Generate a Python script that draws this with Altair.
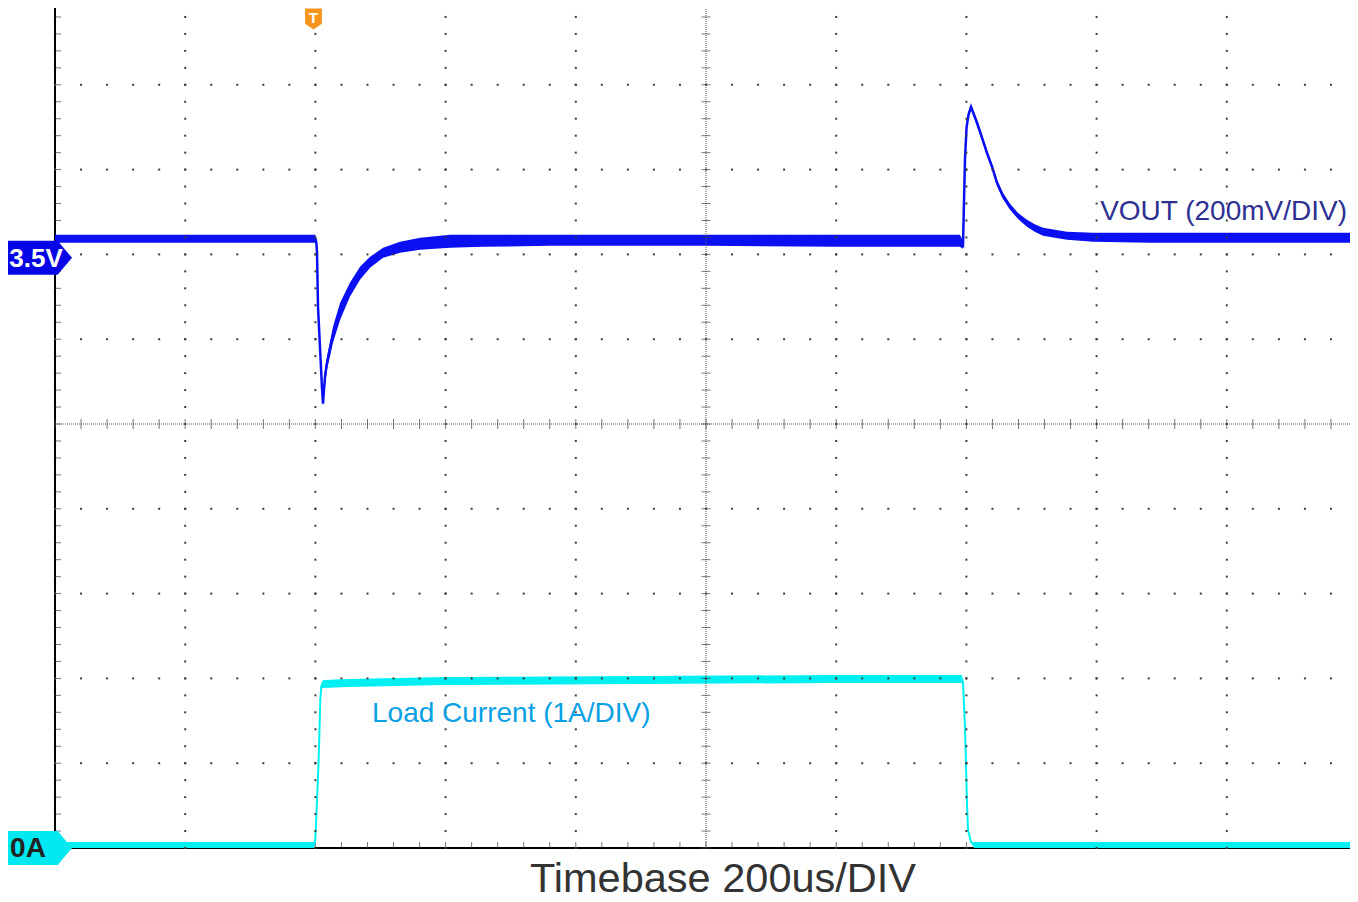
import altair as alt
import pandas as pd

# ---------------- scope settings ----------------
US_PER_DIV = 200          # timebase 200 us/div
T_START, T_END = -400, 1600   # us, trigger at t = 0
N_XDIV, N_YDIV = 10, 10
MINOR = 5                 # minor ticks per division

VOUT_LEVEL = 3.5          # channel marker "3.5V"
VOUT_PER_DIV = 0.2        # 200 mV/div
VOUT_LEVEL_DIV = 6.96     # marker level, divisions above the bottom
IOUT_LEVEL = 0.0          # channel marker "0A"
IOUT_PER_DIV = 1.0        # 1 A/div
TRIGGER_T = -3

# ---------------- VOUT trace (V) ----------------
vout_t = [-400, -200, 0, 1.5, 2.5, 4, 7, 10, 11.7, 13, 14.7, 17.8, 27, 38, 53, 68.5, 84,
          104, 130, 161, 207, 257, 360, 600, 800, 990, 994.8, 997.8, 1000.2, 1003.2,
          1007.1, 1016.3, 1021, 1031.6, 1040, 1047, 1056, 1067, 1079, 1093, 1105, 1117.7,
          1136, 1154.5, 1194.5, 1282, 1400, 1600]
vout_mid = [3.5448, 3.5448, 3.5448, 3.5354, 3.5118, 3.3844, 3.2901, 3.1958, 3.1557, 3.1840,
            3.2193, 3.2524, 3.3184, 3.3750, 3.4245, 3.4646, 3.4906, 3.5118, 3.5248, 3.5330,
            3.5389, 3.5401, 3.5413, 3.5413, 3.5401, 3.5401, 3.5307, 3.7311, 3.8066, 3.8373,
            3.8561, 3.8184, 3.7972, 3.7476, 3.7123, 3.6769, 3.6462, 3.6203, 3.5991, 3.5825,
            3.5708, 3.5613, 3.5566, 3.5519, 3.5483, 3.5472, 3.5472, 3.5472]
vout_hi = [3.5542, 3.5542, 3.5542, 3.5401, 3.5165, 3.3892, 3.2948, 3.2005, 3.1604, 3.1934,
           3.2358, 3.2665, 3.3373, 3.3939, 3.4410, 3.4788, 3.5024, 3.5236, 3.5377, 3.5472,
           3.5542, 3.5542, 3.5542, 3.5542, 3.5542, 3.5542, 3.5401, 3.7359, 3.8113, 3.8443,
           3.8609, 3.8255, 3.8043, 3.7547, 3.7194, 3.6840, 3.6533, 3.6274, 3.6062, 3.5896,
           3.5790, 3.5708, 3.5660, 3.5613, 3.5590, 3.5590, 3.5590, 3.5590]
vout_lo = [3.5354, 3.5354, 3.5354, 3.5307, 3.5071, 3.3797, 3.2854, 3.1910, 3.1509, 3.1745,
           3.1958, 3.2358, 3.2995, 3.3538, 3.4080, 3.4481, 3.4764, 3.5000, 3.5118, 3.5189,
           3.5236, 3.5259, 3.5283, 3.5283, 3.5259, 3.5259, 3.5212, 3.7264, 3.8019, 3.8302,
           3.8491, 3.8113, 3.7901, 3.7406, 3.7052, 3.6698, 3.6391, 3.6132, 3.5920, 3.5731,
           3.5613, 3.5519, 3.5472, 3.5425, 3.5377, 3.5354, 3.5354, 3.5354]

# ---------------- Load current trace (A) ----------------
iload_t = [-400, -200, -2, 0, 2.5, 5, 7.5, 9, 12, 50, 200, 500, 800, 993.3, 994.8, 997.8,
           1000.9, 1002.5, 1007.1, 1011.7, 1200, 1600]
iload_mid = [0.0354, 0.0354, 0.0354, 0.1179, 0.5660, 1.0377, 1.7453, 1.9104, 1.9340, 1.9458,
             1.9693, 1.9811, 1.9929, 1.9929, 1.9458, 1.4269, 0.5307, 0.2123, 0.0708, 0.0354,
             0.0354, 0.0354]
iload_hi = [0.0708, 0.0708, 0.0708, 0.1179, 0.5660, 1.0377, 1.7453, 1.9458, 1.9811, 1.9929,
            2.0165, 2.0283, 2.0401, 2.0401, 1.9458, 1.4269, 0.5307, 0.2123, 0.0708, 0.0708,
            0.0708, 0.0708]
iload_lo = [0.0, 0.0, 0.0, 0.1179, 0.5660, 1.0377, 1.7453, 1.8750, 1.8868, 1.8986, 1.9222,
            1.9340, 1.9458, 1.9458, 1.9458, 1.4269, 0.5307, 0.2123, 0.0708, 0.0, 0.0, 0.0]

# ---------------- text ----------------
vout_label = "VOUT (200mV/DIV)"
iload_label = "Load Current (1A/DIV)"
timebase_label = "Timebase 200us/DIV"
vout_marker = "3.5V"
iload_marker = "0A"
trigger_marker = "T"

W, H = 1302, 848
FONT = "Liberation Sans"
VOUT_COLOR = "#0a10f2"
IOUT_COLOR = "#00f0f2"
GRID = "#3c3c3c"

# ---------------- scales ----------------
x_scale = alt.Scale(domain=[T_START, T_END], nice=False, zero=False)
div_scale = alt.Scale(domain=[0, N_YDIV], nice=False, zero=False)
v_bottom = VOUT_LEVEL - VOUT_LEVEL_DIV * VOUT_PER_DIV
vout_scale = alt.Scale(domain=[v_bottom, v_bottom + N_YDIV * VOUT_PER_DIV], nice=False, zero=False)
i_scale = alt.Scale(domain=[IOUT_LEVEL, IOUT_LEVEL + N_YDIV * IOUT_PER_DIV], nice=False, zero=False)


def X(f):
    return alt.X(f, type="quantitative", scale=x_scale, axis=None)


def Y(f, s):
    return alt.Y(f, type="quantitative", scale=s, axis=None)


vout_df = pd.DataFrame({"t": vout_t, "v": vout_mid, "hi": vout_hi, "lo": vout_lo})
iload_df = pd.DataFrame({"t": iload_t, "i": iload_mid, "hi": iload_hi, "lo": iload_lo})

# graticule
minor_t = [T_START + j * US_PER_DIV / MINOR for j in range(N_XDIV * MINOR + 1)]
minor_d = [j / MINOR for j in range(N_YDIV * MINOR + 1)]
dots = []
for k in range(1, N_YDIV):
    if k == N_YDIV // 2:
        continue
    for t in minor_t:
        dots.append({"t": t, "d": k})
for k in range(1, N_XDIV):
    if k == N_XDIV // 2:
        continue
    for d in minor_d:
        dots.append({"t": T_START + k * US_PER_DIV, "d": d})
dots_df = pd.DataFrame(dots)
t_center = T_START + US_PER_DIV * N_XDIV / 2
d_center = N_YDIV / 2

hticks_df = pd.DataFrame({"t": minor_t})          # along horizontal lines
vticks_df = pd.DataFrame({"d": minor_d})          # along vertical lines

frame_v = pd.DataFrame({"t": [T_START, T_END], "d0": [0, 0], "d1": [N_YDIV, N_YDIV]})
frame_h = pd.DataFrame({"d": [0], "t0": [T_START], "t1": [T_END]})
cross_v = pd.DataFrame({"t": [t_center], "d0": [0], "d1": [N_YDIV]})
cross_h = pd.DataFrame({"d": [d_center], "t0": [T_START], "t1": [T_END]})

layers = []

# frame
layers.append(alt.Chart(frame_v.iloc[[0]]).mark_rule(color="black", strokeWidth=2).encode(
    x=X("t"), y=Y("d0", div_scale), y2="d1"))
layers.append(alt.Chart(frame_v.iloc[[1]]).mark_rule(color="#2a2a2a", strokeWidth=1.5).encode(
    x=X("t"), y=Y("d0", div_scale), y2="d1"))
layers.append(alt.Chart(frame_h).mark_rule(color="black", strokeWidth=2).encode(
    y=Y("d", div_scale), x=X("t0"), x2="t1"))
# frame ticks (inward)
layers.append(alt.Chart(vticks_df).mark_tick(orient="horizontal", size=6, thickness=1, color=GRID, xOffset=3).encode(
    x=alt.value(0), y=Y("d", div_scale)))
layers.append(alt.Chart(vticks_df).mark_tick(orient="horizontal", size=6, thickness=1, color=GRID, xOffset=-3).encode(
    x=alt.value(W), y=Y("d", div_scale)))
layers.append(alt.Chart(hticks_df).mark_tick(orient="vertical", size=6, thickness=1, color=GRID, yOffset=-3).encode(
    x=X("t"), y=alt.value(H)))

# traces
layers.append(alt.Chart(iload_df).mark_area(color=IOUT_COLOR, opacity=1).encode(
    x=X("t"), y=Y("hi", i_scale), y2="lo"))
layers.append(alt.Chart(iload_df).mark_line(color=IOUT_COLOR, strokeWidth=2).encode(
    x=X("t"), y=Y("i", i_scale)))
layers.append(alt.Chart(vout_df).mark_area(color=VOUT_COLOR, opacity=1).encode(
    x=X("t"), y=Y("hi", vout_scale), y2="lo"))
layers.append(alt.Chart(vout_df).mark_line(color=VOUT_COLOR, strokeWidth=2.5).encode(
    x=X("t"), y=Y("v", vout_scale)))

# grid dots
layers.append(alt.Chart(dots_df).mark_square(size=4, color=GRID, opacity=1).encode(
    x=X("t"), y=Y("d", div_scale)))
# center crosshair
layers.append(alt.Chart(cross_v).mark_rule(color="#555555", strokeWidth=1, strokeDash=[1, 1]).encode(
    x=X("t"), y=Y("d0", div_scale), y2="d1"))
layers.append(alt.Chart(cross_h).mark_rule(color="#555555", strokeWidth=1, strokeDash=[1, 1]).encode(
    y=Y("d", div_scale), x=X("t0"), x2="t1"))
layers.append(alt.Chart(hticks_df.assign(d=d_center)).mark_tick(orient="vertical", size=10, thickness=1, color=GRID).encode(
    x=X("t"), y=Y("d", div_scale)))
layers.append(alt.Chart(vticks_df.assign(t=t_center)).mark_tick(orient="horizontal", size=9, thickness=1, color=GRID).encode(
    x=X("t"), y=Y("d", div_scale)))

# channel markers
PENT = "M-1,-0.47 L0.6,-0.47 L1,0 L0.6,0.47 L-1,0.47 Z"
vm = pd.DataFrame({"v": [VOUT_LEVEL], "label": [vout_marker]})
im = pd.DataFrame({"i": [IOUT_LEVEL], "label": [iload_marker]})
layers.append(alt.Chart(vm).mark_point(shape=PENT, size=5184, filled=True, opacity=1, color="#0505e6", strokeWidth=0).encode(
    x=alt.value(-19), y=Y("v", vout_scale)))
layers.append(alt.Chart(vm).mark_text(font=FONT, fontSize=26, fontWeight="bold", color="white", align="center", baseline="middle", dy=1).encode(
    x=alt.value(-19), y=Y("v", vout_scale), text="label:N"))
layers.append(alt.Chart(im).mark_point(shape=PENT, size=5184, filled=True, opacity=1, color="#00e8f0", strokeWidth=0).encode(
    x=alt.value(-19), y=Y("i", i_scale)))
layers.append(alt.Chart(im).mark_text(font=FONT, fontSize=28, fontWeight="bold", color="#222222", align="center", baseline="middle", dy=1).encode(
    x=alt.value(-27), y=Y("i", i_scale), text="label:N"))

# trigger marker
SHIELD = "M-0.8,-1 L0.8,-1 L0.8,0.45 L0,1 L-0.8,0.45 Z"
tm = pd.DataFrame({"t": [TRIGGER_T], "label": [trigger_marker]})
layers.append(alt.Chart(tm).mark_point(shape=SHIELD, size=441, filled=True, opacity=1, color="#f7941d", strokeWidth=0).encode(
    x=X("t"), y=alt.value(19)))
layers.append(alt.Chart(tm).mark_text(font=FONT, fontSize=15, fontWeight="bold", color="white", align="center", baseline="middle").encode(
    x=X("t"), y=alt.value(18), text="label:N"))

# labels
lab = pd.DataFrame({"a": [vout_label], "b": [iload_label], "c": [timebase_label]})
layers.append(alt.Chart(lab).mark_text(font=FONT, fontSize=28, color="#2e3192", align="right", baseline="alphabetic").encode(
    x=alt.value(1292), y=alt.value(220), text="a:N"))
layers.append(alt.Chart(lab).mark_text(font=FONT, fontSize=28, color="#0aa0e6", align="left", baseline="alphabetic").encode(
    x=alt.value(317), y=alt.value(722), text="b:N"))
layers.append(alt.Chart(lab).mark_text(font=FONT, fontSize=41.5, color="#333333", align="center", baseline="alphabetic").encode(
    x=alt.value(668), y=alt.value(892), text="c:N"))

chart = alt.layer(*layers).resolve_scale(y="independent").properties(
    width=W, height=H,
    autosize=alt.AutoSizeParams(type="none"),
    padding={"left": 47, "top": -8, "right": -7, "bottom": 54},
    background="white",
).configure_view(stroke=None)

chart.save("out.html", embed_options={"renderer": "svg", "actions": False})
